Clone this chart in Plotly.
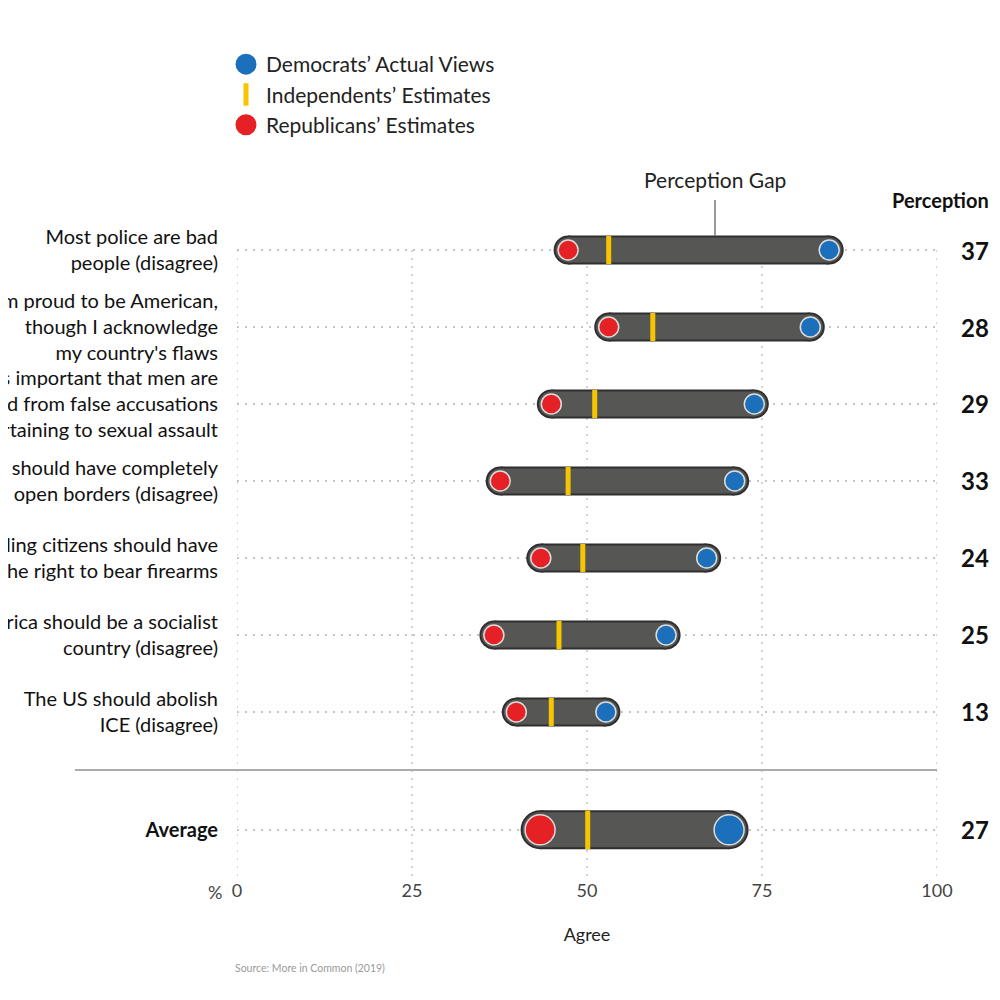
import plotly.graph_objects as go

# ---------------- data ----------------
statements = [
    "Most police are bad<br>people (disagree)",
    "I am proud to be American,<br>though I acknowledge<br>my country's flaws",
    "It is important that men are<br>protected from false accusations<br>pertaining to sexual assault",
    "The US should have completely<br>open borders (disagree)",
    "Law-abiding citizens should have<br>the right to bear firearms",
    "America should be a socialist<br>country (disagree)",
    "The US should abolish<br>ICE (disagree)",
]
republicans_est = [47.3, 53.1, 44.9, 37.6, 43.4, 36.7, 39.9]
independents_est = [53.1, 59.4, 51.1, 47.3, 49.4, 46.0, 44.9]
democrats_actual = [84.6, 81.9, 73.9, 71.1, 67.1, 61.3, 52.7]
perception_gap = [37, 28, 29, 33, 24, 25, 13]

avg_label = "<b>Average</b>"
avg_republicans = 43.3
avg_independents = 50.1
avg_democrats = 70.3
avg_gap = 27

x_ticks = [0, 25, 50, 75, 100]

# ---------------- layout helpers ----------------
RED = "#e52126"
BLUE = "#1c70bb"
YEL = "#f7c400"
BAR = "#565654"
EDGE = "#2f2f2f"
RING = "#dcdcdc"
FONT = "Lato"

W = H = 984      # figure size (page has 8px body margin)
OFF = 8

def px(p):       # page x pixel -> paper x
    return (p - OFF) / W

def py(p):       # page y pixel -> paper y
    return 1 - (p - OFF) / H

row_y = list(range(len(statements)))
avg_y = 7.53
sep_y = 6.753
y_bottom = 8.156
y_top = (OFF - 250) / 77.0

fig = go.Figure()

def capsule_xy(lo, hi, ys):
    xs, yy = [], []
    for a, b, y in zip(lo, hi, ys):
        xs += [a, b, None]
        yy += [y, y, None]
    return xs, yy

cx, cy = capsule_xy(republicans_est, democrats_actual, row_y)
for w, col in [(29, EDGE), (25, BAR)]:
    fig.add_trace(go.Scatter(
        x=cx, y=cy, mode="lines+markers",
        line=dict(color=col, width=w),
        marker=dict(color=col, size=w, opacity=1, line=dict(width=0)),
        hoverinfo="skip", showlegend=False, cliponaxis=False))

ax, ay = capsule_xy([avg_republicans], [avg_democrats], [avg_y])
for w, col in [(39, EDGE), (35, BAR)]:
    fig.add_trace(go.Scatter(
        x=ax, y=ay, mode="lines+markers",
        line=dict(color=col, width=w),
        marker=dict(color=col, size=w, opacity=1, line=dict(width=0)),
        hoverinfo="skip", showlegend=False, cliponaxis=False))

all_y = row_y + [avg_y]
# line-ns symbol length is 1.4 x size
fig.add_trace(go.Scatter(
    x=independents_est + [avg_independents], y=all_y, mode="markers",
    marker=dict(symbol="line-ns", size=[20] * 7 + [27.5], opacity=1,
                line=dict(color=YEL, width=5)),
    showlegend=False, cliponaxis=False, name="Independents’ Estimates"))
fig.add_trace(go.Scatter(
    x=republicans_est + [avg_republicans], y=all_y, mode="markers",
    marker=dict(color=RED, size=[20] * 7 + [30], opacity=1, line=dict(color=RING, width=1.5)),
    showlegend=False, cliponaxis=False, name="Republicans’ Estimates"))
fig.add_trace(go.Scatter(
    x=democrats_actual + [avg_democrats], y=all_y, mode="markers",
    marker=dict(color=BLUE, size=[20] * 7 + [30], opacity=1, line=dict(color=RING, width=1.5)),
    showlegend=False, cliponaxis=False, name="Democrats’ Actual Views"))

# legend entries
fig.add_trace(go.Scatter(x=[None], y=[None], mode="markers", name="Democrats’ Actual Views",
                         marker=dict(color=BLUE, size=16, line=dict(color=BLUE, width=5))))
fig.add_trace(go.Scatter(x=[None], y=[None], mode="markers", name="Independents’ Estimates",
                         marker=dict(symbol="line-ns", size=16, line=dict(color=YEL, width=5))))
fig.add_trace(go.Scatter(x=[None], y=[None], mode="markers", name="Republicans’ Estimates",
                         marker=dict(color=RED, size=16, line=dict(color=RED, width=5))))

shapes = []
for t in x_ticks:
    shapes.append(dict(type="line", xref="x", yref="y", x0=t, x1=t, y0=0, y1=y_bottom,
                       line=dict(color="#c4c4c4", width=1.5, dash="2px,6px"), layer="below"))
shapes.append(dict(type="line", xref="paper", yref="y", x0=px(75), x1=px(937), y0=sep_y, y1=sep_y,
                   line=dict(color="#ababab", width=2)))
shapes.append(dict(type="line", xref="paper", yref="paper", x0=px(715), x1=px(715),
                   y0=py(236), y1=py(200), line=dict(color="#777777", width=1.5)))

annotations = []
for g, y in zip(perception_gap + [avg_gap], all_y):
    annotations.append(dict(xref="paper", yref="y", x=px(991), y=y, xanchor="right", yanchor="middle",
                            text=f"<b>{g}</b>", showarrow=False,
                            font=dict(family=FONT, size=24, color="#111")))
annotations += [
    dict(xref="paper", yref="paper", x=px(991), y=py(200), xanchor="right", yanchor="middle",
         text="<b>Perception</b>", showarrow=False, font=dict(family=FONT, size=20, color="#111")),
    dict(xref="paper", yref="paper", x=px(715), y=py(179), xanchor="center", yanchor="middle",
         text="Perception Gap", showarrow=False, font=dict(family=FONT, size=21, color="#222")),
    dict(xref="paper", yref="paper", x=px(224), y=py(892), xanchor="right", yanchor="middle",
         text="%", showarrow=False, font=dict(family=FONT, size=18, color="#444")),
    dict(xref="paper", yref="paper", x=px(233), y=py(968), xanchor="left", yanchor="middle",
         text="Source: More in Common (2019)", showarrow=False,
         font=dict(family=FONT, size=10.5, color="#9a9a9a")),
]

fig.update_layout(
    width=W, height=H,
    margin=dict(l=0, r=0, t=0, b=0, autoexpand=False),
    plot_bgcolor="white", paper_bgcolor="white",
    font=dict(family=FONT, color="#222"),
    shapes=shapes, annotations=annotations,
    legend=dict(x=px(226), y=py(44), xanchor="left", yanchor="top",
                font=dict(family=FONT, size=21, color="#222"),
                bgcolor="rgba(0,0,0,0)", itemsizing="trace", tracegroupgap=0),
    xaxis=dict(domain=[px(237), px(937)], range=[0, 100], tickvals=x_ticks,
               showgrid=False, zeroline=False, showline=False, ticks="", automargin=False,
               tickfont=dict(family=FONT, size=18, color="#444"),
               title=dict(text="Agree", font=dict(family=FONT, size=18, color="#222"), standoff=28)),
    yaxis=dict(domain=[py(878), 1], range=[y_bottom, y_top], automargin=False,
               tickvals=all_y, ticktext=statements + [avg_label],
               showgrid=True, gridcolor="#c4c4c4", griddash="2px,6px", gridwidth=1.5,
               zeroline=False, showline=False, ticks="", ticklabelstandoff=18,
               tickfont=dict(family=FONT, size=20, color="#111")),
)

fig.write_html("out.html")
